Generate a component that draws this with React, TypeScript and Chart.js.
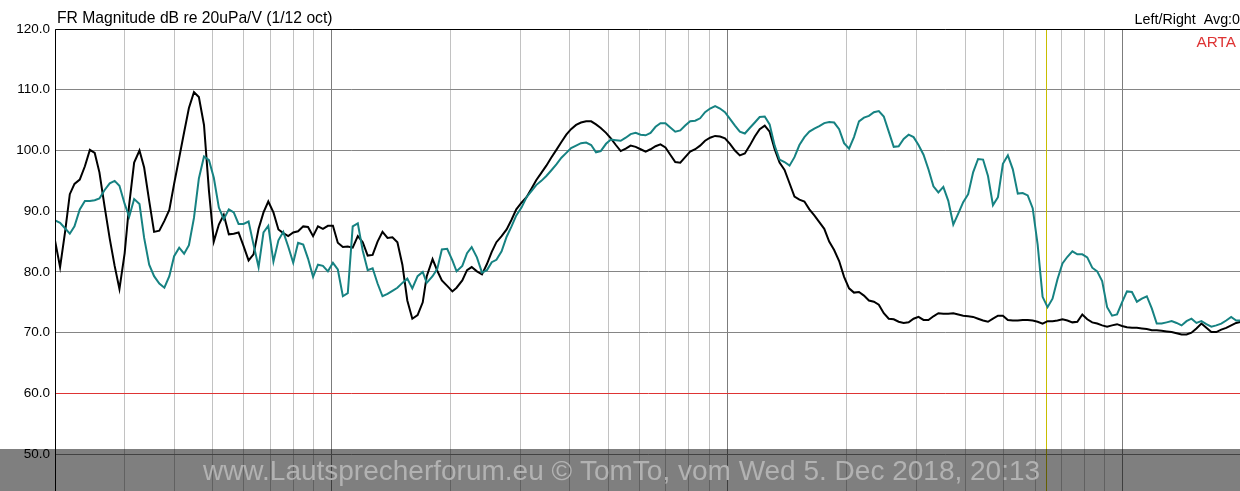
import React, { useEffect, useRef } from "react";
import { Chart, registerables } from "chart.js";

Chart.register(...registerables);

// Frequency grid (Hz), 1/24 octave
const freqHz = [
  20.0, 20.6, 21.2, 21.8, 22.4, 23.1, 23.8, 24.5, 25.2, 25.9, 26.7, 27.5, 28.3, 29.1, 30.0, 30.8, 31.7, 32.7, 33.6, 34.6, 35.6, 36.7, 37.8, 38.9,
  40.0, 41.2, 42.4, 43.6, 44.9, 46.2, 47.6, 49.0, 50.4, 51.9, 53.4, 55.0, 56.6, 58.2, 59.9, 61.7, 63.5, 65.4, 67.3, 69.2, 71.3, 73.4, 75.5, 77.7,
  80.0, 82.3, 84.8, 87.2, 89.8, 92.4, 95.1, 97.9, 100.8, 103.7, 106.8, 109.9, 113.1, 116.5, 119.9, 123.4, 127.0, 130.7, 134.5, 138.5, 142.5, 146.7, 151.0, 155.4,
  160, 165, 170, 174, 180, 185, 190, 196, 202, 207, 214, 220, 226, 233, 240, 247, 254, 261, 269, 277, 285, 293, 302, 311,
  320, 329, 339, 349, 359, 370, 381, 392, 403, 415, 427, 440, 453, 466, 479, 494, 508, 523, 538, 554, 570, 587, 604, 622,
  640, 659, 678, 698, 718, 739, 761, 783, 806, 830, 854, 879, 905, 932, 959, 987, 1016, 1046, 1076, 1108, 1140, 1174, 1208, 1244,
  1280, 1318, 1356, 1396, 1437, 1479, 1522, 1567, 1613, 1660, 1709, 1759, 1810, 1863, 1918, 1974, 2032, 2091, 2153, 2216, 2281, 2348, 2416, 2487,
  2560, 2635, 2712, 2792, 2874, 2958, 3044, 3134, 3225, 3320, 3417, 3517, 3620, 3727, 3836, 3948, 4064, 4183, 4305, 4432, 4561, 4695, 4833, 4974,
  5120, 5270, 5425, 5583, 5747, 5916, 6089, 6267, 6451, 6640, 6834, 7035, 7241, 7453, 7671, 7896, 8127, 8366, 8611, 8863, 9123, 9390, 9665, 9949,
  10240, 10540, 10849, 11167, 11494, 11831, 12177, 12534, 12902, 13280, 13669, 14069, 14482, 14906, 15342, 15792, 16255, 16731, 17222, 17726, 18245, 18780, 19330, 19897,
];

// Black trace (dB)
const blackDb = [
  85.2, 80.8, 86.5, 92.8, 94.5, 95.2, 97.4, 100.1, 99.6, 96.4, 90.7, 85.5, 81.0, 77.2, 83.1, 91.1, 98.0, 100.0, 97.2, 91.7, 86.6, 86.8, 88.4, 90.2,
  94.5, 98.8, 103.0, 107.0, 109.6, 108.8, 104.2, 93.3, 85.0, 87.8, 89.4, 86.2, 86.3, 86.5, 84.3, 81.9, 82.9, 87.1, 89.8, 91.6, 89.8, 87.0, 86.4, 85.9,
  86.5, 86.7, 87.5, 87.4, 85.9, 87.5, 87.1, 87.6, 87.6, 84.8, 84.1, 84.2, 84.0, 85.9, 84.9, 82.7, 82.8, 85.0, 86.6, 85.6, 85.7, 84.9, 81.2, 75.3,
  72.3, 72.9, 75.0, 79.3, 82.1, 80.2, 78.6, 77.7, 76.8, 77.4, 78.6, 80.3, 80.8, 80.1, 79.6, 81.3, 83.3, 84.9, 85.9, 87.0, 88.6, 90.3, 91.4, 92.3,
  93.7, 95.1, 96.3, 97.5, 98.8, 100.1, 101.4, 102.6, 103.5, 104.2, 104.6, 104.8, 104.8, 104.3, 103.7, 102.9, 102.0, 100.9, 99.9, 100.3, 100.8, 100.6, 100.2, 99.8,
  100.2, 100.7, 101.0, 100.5, 99.3, 98.1, 98.0, 98.9, 99.8, 100.2, 100.8, 101.6, 102.1, 102.4, 102.3, 102.0, 101.1, 100.0, 99.2, 99.5, 100.8, 102.3, 103.5, 104.1,
  103.1, 100.2, 98.0, 96.8, 94.6, 92.4, 91.9, 91.6, 90.3, 89.3, 88.2, 87.1, 85.0, 83.6, 81.8, 79.2, 77.3, 76.6, 76.7, 76.1, 75.3, 75.1, 74.6, 73.2,
  72.3, 72.2, 71.8, 71.6, 71.7, 72.3, 72.6, 72.1, 72.1, 72.7, 73.2, 73.1, 73.1, 73.2, 73.0, 72.8, 72.7, 72.6, 72.3, 72.0, 71.8, 72.3, 72.8, 72.8,
  72.1, 72.0, 72.0, 72.1, 72.1, 72.0, 71.8, 71.5, 71.9, 71.9, 72.0, 72.2, 72.0, 71.7, 71.8, 73.0, 72.2, 71.7, 71.5, 71.2, 71.0, 71.2, 71.4, 71.1,
  70.9, 70.8, 70.8, 70.7, 70.6, 70.4, 70.4, 70.3, 70.2, 70.1, 69.9, 69.7, 69.7, 70.0, 70.7, 71.5, 70.8, 70.1, 70.1, 70.5, 70.8, 71.2, 71.6, 71.8,
];

// Teal trace (dB)
const tealDb = [
  88.5, 88.1, 87.2, 86.3, 87.5, 90.3, 91.7, 91.7, 91.8, 92.1, 93.5, 94.6, 95.0, 94.2, 91.2, 89.1, 92.0, 91.2, 85.6, 81.2, 79.3, 78.1, 77.4, 79.3,
  82.6, 84.0, 83.0, 84.4, 88.9, 95.4, 99.0, 98.4, 95.5, 90.6, 88.7, 90.3, 89.8, 87.9, 87.9, 88.3, 84.5, 80.8, 86.5, 87.6, 81.7, 85.2, 86.6, 84.2,
  81.5, 84.8, 84.5, 82.2, 79.2, 81.2, 81.0, 80.1, 81.5, 80.4, 76.0, 76.5, 87.5, 88.0, 83.5, 80.3, 80.6, 78.1, 76.0, 76.4, 76.9, 77.4, 78.2, 78.9,
  77.3, 79.3, 80.0, 78.2, 79.3, 80.5, 83.7, 83.8, 81.9, 80.1, 81.0, 83.1, 84.1, 82.4, 79.9, 80.3, 81.6, 82.0, 83.4, 85.8, 87.5, 89.3, 90.6, 92.3,
  93.3, 94.3, 95.0, 95.8, 96.7, 97.7, 98.8, 99.6, 100.4, 100.8, 101.2, 101.3, 100.9, 99.7, 99.9, 101.1, 101.8, 101.7, 101.6, 102.1, 102.7, 102.9, 102.6, 102.5,
  102.9, 103.9, 104.5, 104.5, 103.8, 103.1, 103.3, 104.1, 104.8, 104.9, 105.3, 106.3, 106.9, 107.3, 106.9, 106.3, 105.2, 104.1, 103.1, 102.8, 103.7, 104.6, 105.5, 105.6,
  104.3, 100.8, 98.5, 98.1, 97.5, 98.9, 100.9, 102.2, 103.1, 103.6, 104.0, 104.5, 104.7, 104.6, 103.5, 101.2, 100.3, 102.2, 104.8, 105.4, 105.7, 106.3, 106.5, 105.6,
  103.1, 100.6, 100.7, 101.9, 102.6, 102.2, 100.9, 99.3, 96.9, 94.1, 93.1, 94.0, 91.7, 87.8, 89.6, 91.5, 92.8, 96.4, 98.6, 98.5, 95.8, 91.0, 92.3, 97.8,
  99.2, 96.9, 92.9, 93.0, 92.6, 90.5, 84.5, 75.9, 74.2, 75.6, 78.8, 81.4, 82.5, 83.4, 82.9, 82.9, 82.4, 80.7, 80.1, 78.5, 74.2, 72.8, 73.0, 75.0,
  76.8, 76.7, 75.1, 75.6, 76.0, 74.0, 71.5, 71.5, 71.7, 71.9, 71.6, 71.2, 71.9, 72.3, 71.6, 71.9, 71.4, 71.0, 71.2, 71.5, 72.0, 72.6, 72.0, 72.0,
];

// Vertical grid lines (Hz)
const xGridHz = [
  20, 30, 40, 50, 60, 70, 80, 90, 100, 200, 300, 400, 500, 600, 700, 800, 900,
  1000, 2000, 3000, 4000, 5000, 6000, 7000, 8000, 9000, 10000, 20000,
];
const majorGridHz = [100, 1000, 10000];
const referenceDb = 60;
const cursorHz = 6400;

const titleText = "FR Magnitude dB re 20uPa/V (1/12 oct)";
const channelText = "Left/Right  Avg:0";
const brandText = "ARTA";
const watermarkText = "www.Lautsprecherforum.eu \u00A9 TomTo, vom Wed 5. Dec 2018, 20:13";

const FONT = "'Liberation Sans', Arial, sans-serif";
const RED = "rgb(222,52,52)";

const overlayPlugin = {
  id: "artaOverlay",
  beforeDatasetsDraw(chart: any) {
    const { ctx, chartArea, scales } = chart;
    ctx.save();
    ctx.lineWidth = 1;
    const x = Math.round(scales.x.getPixelForValue(cursorHz)) + 0.5;
    ctx.strokeStyle = "rgb(200,190,0)";
    ctx.beginPath();
    ctx.moveTo(x, chartArea.top);
    ctx.lineTo(x, chartArea.bottom);
    ctx.stroke();
    ctx.restore();
  },
  afterDatasetsDraw(chart: any) {
    const { ctx, chartArea, scales } = chart;
    ctx.save();
    ctx.lineWidth = 1;
    const ry = Math.floor(scales.y.getPixelForValue(referenceDb)) + 0.5;
    ctx.strokeStyle = RED;
    ctx.beginPath();
    ctx.moveTo(chartArea.left, ry);
    ctx.lineTo(chartArea.right, ry);
    ctx.stroke();
    ctx.restore();
  },
  afterDraw(chart: any) {
    const { ctx, chartArea, width, height } = chart;
    ctx.save();
    // frame
    ctx.strokeStyle = "#000";
    ctx.lineWidth = 1;
    ctx.beginPath();
    const lx = Math.round(chartArea.left) + 0.5;
    const ty = Math.round(chartArea.top) + 0.5;
    ctx.moveTo(lx, height);
    ctx.lineTo(lx, ty);
    ctx.lineTo(width, ty);
    ctx.stroke();

    // texts
    ctx.fillStyle = "#000";
    ctx.textBaseline = "alphabetic";
    ctx.font = `15.7px ${FONT}`;
    ctx.textAlign = "left";
    ctx.fillText(titleText, 57, 23);

    ctx.font = `14.3px ${FONT}`;
    ctx.textAlign = "right";
    ctx.fillText(channelText, 1240, 24);

    ctx.fillStyle = RED;
    ctx.font = `15.3px ${FONT}`;
    ctx.fillText(brandText, 1236, 47);

    // watermark band
    ctx.fillStyle = "rgba(0,0,0,0.5)";
    ctx.fillRect(0, 449, width, height - 449);
    ctx.fillStyle = "#b2b2b2";
    ctx.font = `28px ${FONT}`;
    ctx.textAlign = "center";
    ctx.fillText(watermarkText, 621.5, 480);
    ctx.restore();
  },
};

export default function App() {
  const ref = useRef<HTMLCanvasElement>(null);

  useEffect(() => {
    const canvas = ref.current;
    if (!canvas) return;
    const chart = new Chart(canvas, {
      type: "line",
      data: {
        datasets: [
          {
            label: "teal",
            data: freqHz.map((f, i) => ({ x: f, y: tealDb[i] })),
            borderColor: "#168282",
            borderWidth: 2,
            pointRadius: 0,
            tension: 0,
            fill: false,
          },
          {
            label: "black",
            data: freqHz.map((f, i) => ({ x: f, y: blackDb[i] })),
            borderColor: "#000000",
            borderWidth: 2,
            pointRadius: 0,
            tension: 0,
            fill: false,
          },
        ],
      },
      options: {
        responsive: false,
        animation: false,
        devicePixelRatio: 1,
        layout: { padding: { top: 29, left: 0, right: 0, bottom: 0 } },
        plugins: {
          legend: { display: false },
          tooltip: { enabled: false },
          title: { display: false },
        },
        scales: {
          x: {
            type: "logarithmic",
            min: 20,
            max: 20000,
            afterBuildTicks: (s: any) => {
              s.ticks = xGridHz.map((v) => ({ value: v }));
            },
            afterFit: (s: any) => {
              s.height = 0;
            },
            ticks: { display: false },
            grid: {
              color: (c: any) =>
                majorGridHz.includes(c.tick?.value) ? "#7c7c7c" : "#c2c2c2",
              lineWidth: 1,
              drawTicks: false,
            },
            border: { display: false },
          },
          y: {
            type: "linear",
            min: 40,
            max: 120,
            afterFit: (s: any) => {
              s.width = 55;
            },
            ticks: {
              stepSize: 10,
              padding: 5,
              color: "#000",
              font: { family: FONT, size: 13.5 },
              callback: (v: any) => (Number(v) < 50 ? null : Number(v).toFixed(1)),
            },
            grid: {
              color: (c: any) =>
                Math.abs((c.tick?.value ?? 0) - referenceDb) < 0.01 ? "rgba(0,0,0,0)" : "#858585",
              lineWidth: 1,
              drawTicks: false,
            },
            border: { display: false },
          },
        },
      } as any,
      plugins: [overlayPlugin],
    });
    return () => chart.destroy();
  }, []);

  return (
    <div
      style={{
        position: "fixed",
        left: 0,
        top: 0,
        width: 1240,
        height: 491,
        overflow: "hidden",
        background: "#fff",
      }}
    >
      <canvas
        ref={ref}
        width={1242}
        height={528}
        style={{ display: "block", width: 1242, height: 528 }}
      />
    </div>
  );
}
